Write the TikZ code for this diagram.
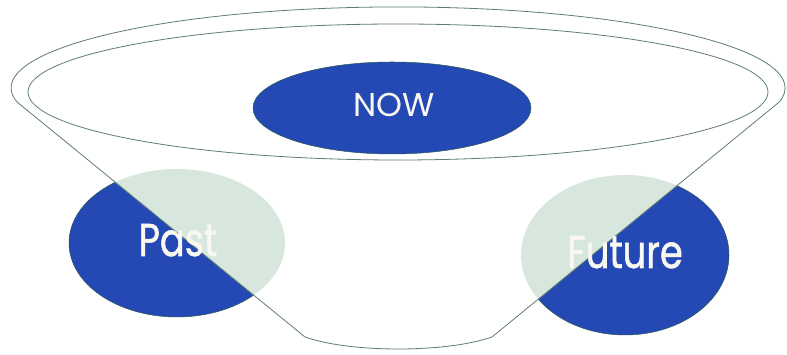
\documentclass[tikz,border=0pt]{standalone}
\usepackage{fontspec}
\setmainfont{Poppins}
\newfontfamily\narrowfont[FakeStretch=0.8,FakeBold=1.2]{Poppins}
\usetikzlibrary{shapes.geometric}
\definecolor{blueblob}{RGB}{36,72,180}
\definecolor{paleblob}{RGB}{215,231,222}
\definecolor{rimline}{RGB}{95,125,112}
\definecolor{blobedge}{RGB}{45,90,80}
\definecolor{lbltext}{RGB}{248,248,240}
\tikzset{
  blob/.style={ellipse, fill=blueblob, draw=blobedge, line width=0.5pt, inner sep=0pt},
  lbl/.style={text=lbltext, inner sep=0pt, anchor=base},
  rim/.style={draw=rimline, line width=0.8pt},
}
\begin{document}
\begin{tikzpicture}[x=1pt,y=1pt]
\fill[white] (0,0) rectangle (787,355);
\useasboundingbox (0,0) rectangle (787,355);
% past and future
\node[blob, minimum width=216pt, minimum height=148pt] (past) at (177,112) {};
\node[blob, minimum width=208pt, minimum height=160pt] (future) at (625,100) {};
% bowl
\def\bowlpath{(17,253) arc[start angle=190, end angle=-10, x radius=387, y radius=81] -- (492,18) .. controls (446,2) and (350,2) .. (305,18) -- cycle}
\fill[white] \bowlpath;
\begin{scope}
  \clip \bowlpath;
  \fill[paleblob] (177,112) ellipse [x radius=108, y radius=74];
  \fill[paleblob] (625,100) ellipse [x radius=104, y radius=80];
\end{scope}
\draw[rim] \bowlpath;
\draw[rim] (398,263) ellipse [x radius=370, y radius=68];
% now
\node[blob, minimum width=278pt, minimum height=92pt] (now) at (392,247) {};
% labels
\node[lbl, font=\fontsize{33}{33}\selectfont] (nowlabel) at (394,238) {NOW};
\node[lbl, font=\narrowfont\fontsize{46}{46}\selectfont] (pastlabel) at (178,99) {Past};
\node[lbl, font=\narrowfont\fontsize{46}{46}\selectfont] (futurelabel) at (625,87) {Future};
\end{tikzpicture}
\end{document}
